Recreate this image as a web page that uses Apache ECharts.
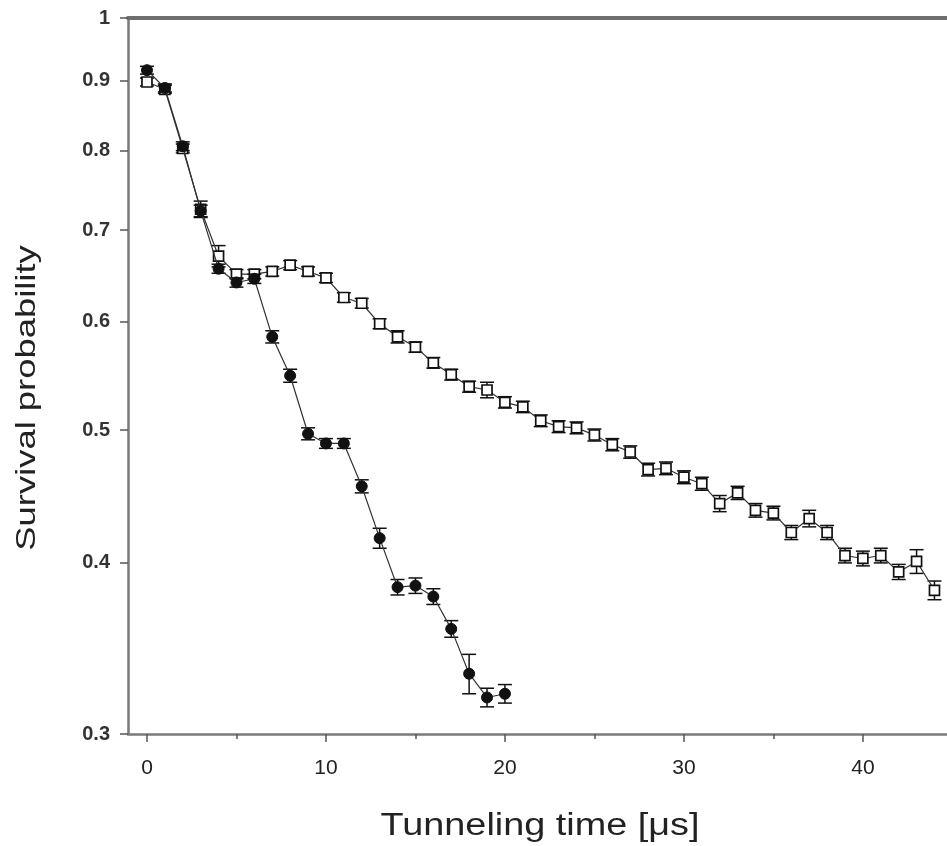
<!DOCTYPE html>
<html>
<head>
<meta charset="utf-8">
<script src="https://cdn.jsdelivr.net/npm/echarts@6/dist/echarts.min.js"></script>
<style>
html,body{margin:0;padding:0;background:#fff;}
#chart{width:947px;height:846px;}
</style>
</head>
<body>
<div id="chart"></div>
<script>
// Tunneling time [μs]
var filledTime = [0,1,2,3,4,5,6,7,8,9,10,11,12,13,14,15,16,17,18,19,20];
var filledProb = [0.916,0.889,0.806,0.723,0.656,0.641,0.645,0.585,0.548,0.497,0.489,0.489,0.455,0.417,0.384,0.385,0.378,0.358,0.332,0.319,0.321];
var filledErr  = [0.006,0.006,0.006,0.007,0.005,0.005,0.005,0.006,0.006,0.005,0.004,0.004,0.005,0.007,0.005,0.005,0.005,0.005,0.011,0.005,0.005];

var openTime = [0,1,2,3,4,5,6,7,8,9,10,11,12,13,14,15,16,17,18,19,20,21,22,23,24,25,26,27,28,29,30,31,32,33,34,35,36,37,38,39,40,41,42,43,44];
var openProb = [0.898,0.887,0.803,0.725,0.670,0.650,0.650,0.653,0.660,0.653,0.646,0.625,0.619,0.598,0.585,0.575,0.560,0.549,0.538,0.535,0.524,0.520,0.508,0.503,0.502,0.496,0.488,0.482,0.468,0.469,0.462,0.457,0.442,0.450,0.437,0.435,0.421,0.431,0.421,0.405,0.403,0.405,0.394,0.401,0.382];
var openErr  = [0.006,0.006,0.006,0.010,0.012,0.005,0.005,0.005,0.005,0.005,0.005,0.005,0.005,0.005,0.006,0.005,0.005,0.005,0.005,0.007,0.005,0.005,0.005,0.005,0.005,0.005,0.005,0.005,0.005,0.005,0.005,0.005,0.006,0.005,0.005,0.005,0.005,0.006,0.005,0.005,0.005,0.005,0.005,0.008,0.006];

var xMajorTicks = [0,10,20,30,40];
var xMinorTicks = [5,15,25,35];
var yTicks = [0.3,0.4,0.5,0.6,0.7,0.8,0.9,1];
var xTitle = 'Tunneling time [μs]';
var yTitle = 'Survival probability';

function pairs(t, p){ return t.map(function(v,i){ return [v, p[i]]; }); }
function errData(t, p, e){ return t.map(function(v,i){ return [v, p[i]-e[i], p[i]+e[i]]; }); }

function errRender(params, api){
  var x = api.value(0);
  var lo = api.coord([x, api.value(1)]);
  var hi = api.coord([x, api.value(2)]);
  var hw = 7;
  var st = {stroke:'#111', lineWidth:1.5};
  return {type:'group', children:[
    {type:'line', shape:{x1:lo[0],y1:lo[1],x2:hi[0],y2:hi[1]}, style:st},
    {type:'line', shape:{x1:lo[0]-hw,y1:lo[1],x2:lo[0]+hw,y2:lo[1]}, style:st},
    {type:'line', shape:{x1:hi[0]-hw,y1:hi[1],x2:hi[0]+hw,y2:hi[1]}, style:st}
  ]};
}

var chart = echarts.init(document.getElementById('chart'), null, {renderer:'canvas'});
var axisGray = '#7a7a7a';
var fontFam = '"Liberation Sans", Arial, sans-serif';

var option = {
  animation:false,
  backgroundColor:'#fff',
  grid:{left:128, top:18, right:0, bottom:112, containLabel:false},
  xAxis:[
    {type:'value', min:-1.06, max:44.7, position:'bottom',
     axisLine:{show:true, onZero:false, lineStyle:{color:axisGray, width:2.5}},
     axisTick:{show:true, inside:false, length:8, customValues:xMajorTicks, lineStyle:{color:'#555', width:1.5}},
     axisLabel:{show:true, customValues:xMajorTicks, margin:24, fontSize:21, color:'#222', fontFamily:fontFam},
     splitLine:{show:false}},
    {type:'value', min:-1.06, max:44.7, position:'bottom', gridIndex:0,
     axisLine:{show:false},
     axisTick:{show:true, length:5, customValues:xMinorTicks, lineStyle:{color:'#555', width:1.5}},
     axisLabel:{show:false}, splitLine:{show:false}},
    {type:'value', min:-1.06, max:44.7, position:'top', gridIndex:0,
     axisLine:{show:true, lineStyle:{color:'#6e6e6e', width:4}},
     axisTick:{show:false}, axisLabel:{show:false}, splitLine:{show:false}}
  ],
  yAxis:{type:'log', logBase:10, min:0.3, max:1,
     axisLine:{show:true, onZero:false, lineStyle:{color:axisGray, width:2.5}},
     axisTick:{show:true, length:8, customValues:yTicks, lineStyle:{color:'#555', width:1.5}},
     axisLabel:{show:true, customValues:yTicks, margin:18, fontSize:20, fontWeight:'bold', color:'#333', fontFamily:fontFam,
       formatter:function(v){ return String(+(+v).toFixed(2)); }},
     splitLine:{show:false}, minorTick:{show:false}},
  graphic:[
    {type:'text', x:27, y:398, rotation:Math.PI/2, scaleX:1.3,
     style:{text:yTitle, fontSize:28, fill:'#222', fontFamily:fontFam, align:'center', verticalAlign:'middle'}},
    {type:'text', x:540, y:826, scaleX:1.22,
     style:{text:xTitle, fontSize:31, fill:'#222', fontFamily:fontFam, align:'center', verticalAlign:'middle'}}
  ],
  series:[
    {type:'line', name:'open', data:pairs(openTime, openProb), xAxisIndex:0,
     symbol:'rect', symbolSize:10, showSymbol:true,
     lineStyle:{color:'#333', width:1.2},
     itemStyle:{color:'#fff', borderColor:'#111', borderWidth:1.7}, z:3},
    {type:'custom', name:'openErr', data:errData(openTime, openProb, openErr), renderItem:errRender, xAxisIndex:0, z:2},
    {type:'line', name:'filled', data:pairs(filledTime, filledProb), xAxisIndex:0,
     symbol:'circle', symbolSize:11, showSymbol:true,
     lineStyle:{color:'#333', width:1.2},
     itemStyle:{color:'#111', borderColor:'#111', borderWidth:1}, z:5},
    {type:'custom', name:'filledErr', data:errData(filledTime, filledProb, filledErr), renderItem:errRender, xAxisIndex:0, z:4}
  ]
};
chart.setOption(option);
</script>
</body>
</html>
